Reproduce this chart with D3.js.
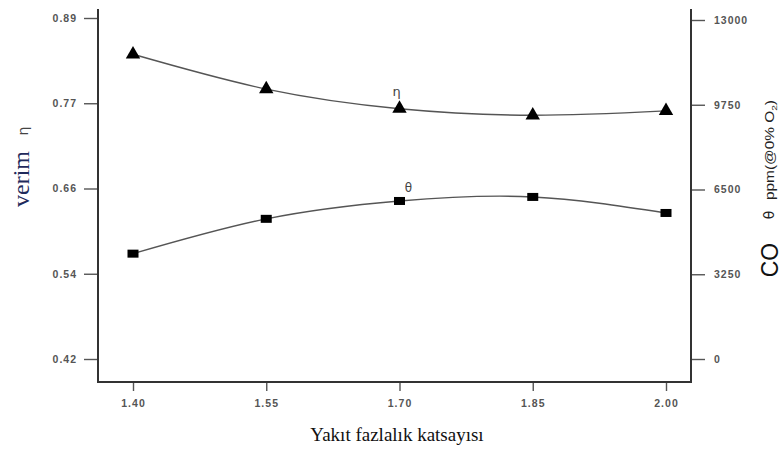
<!DOCTYPE html>
<html>
<head>
<meta charset="utf-8">
<script src="https://cdn.jsdelivr.net/npm/d3@7"></script>
<style>
  body { margin: 0; background: #fff; }
  svg { display: block; }
</style>
</head>
<body>
<div id="chart"></div>
<script>
var width = 783,
    height = 450;

// excess fuel coefficient
var categories = [1.40, 1.55, 1.70, 1.85, 2.00];
var xTickLabels = ["1.40", "1.55", "1.70", "1.85", "2.00"];
// efficiency (left axis)
var etaValues = [0.840, 0.792, 0.765, 0.756, 0.762];
// CO ppm (right axis)
var coValues = [4040, 5375, 6060, 6215, 5600];
var leftTickLabels = ["0.42", "0.54", "0.66", "0.77", "0.89"];
var rightTickLabels = ["0", "3250", "6500", "9750", "13000"];

var plotLeft = 98, plotRight = 691, plotTop = 9, plotBottom = 382;

var svg = d3.select("#chart").append("svg")
  .attr("width", width)
  .attr("height", height);

var x = d3.scaleLinear().domain([1.40, 2.00]).range([133, 666]);
var yL = d3.scaleLinear().domain([0.42, 0.89]).range([359, 18]);
var yR = d3.scaleLinear().domain([0, 13000]).range([359, 20]);

var axisColor = "#333";
var tickFont = "bold 10.5px 'Liberation Sans', Arial, sans-serif";

// left axis
var leftAxis = d3.axisLeft(yL)
  .tickValues(leftTickLabels.map(function(d, i) { return 0.42 + i * (0.89 - 0.42) / 4; }))
  .tickFormat(function(d, i) { return leftTickLabels[i]; })
  .tickSize(14)
  .tickPadding(7);
var gl = svg.append("g").attr("transform", "translate(" + plotLeft + ",0)").call(leftAxis);

// right axis
var rightAxis = d3.axisRight(yR)
  .tickValues([0, 3250, 6500, 9750, 13000])
  .tickFormat(function(d, i) { return rightTickLabels[i]; })
  .tickSize(14)
  .tickPadding(9);
var gr = svg.append("g").attr("transform", "translate(" + plotRight + ",0)").call(rightAxis);

// bottom axis
var bottomAxis = d3.axisBottom(x)
  .tickValues(categories)
  .tickFormat(function(d, i) { return xTickLabels[i]; })
  .tickSize(9)
  .tickPadding(9);
var gb = svg.append("g").attr("transform", "translate(0," + plotBottom + ")").call(bottomAxis);

[gl, gr, gb].forEach(function(g) {
  g.select(".domain").remove();
  g.selectAll(".tick line").attr("stroke", "#555").attr("stroke-width", 1.4);
  g.selectAll(".tick text")
    .style("font", tickFont)
    .style("letter-spacing", "1px")
    .attr("fill", "#555");
});

// frame lines (left, bottom, right)
svg.append("path")
  .attr("d", "M" + plotLeft + "," + plotTop + "V" + plotBottom + "H" + plotRight + "V" + plotTop)
  .attr("fill", "none")
  .attr("stroke", axisColor)
  .attr("stroke-width", 2);

// curves
var etaLine = d3.line()
  .curve(d3.curveNatural)
  .x(function(d, i) { return x(categories[i]); })
  .y(function(d) { return yL(d); });
var coLine = d3.line()
  .curve(d3.curveNatural)
  .x(function(d, i) { return x(categories[i]); })
  .y(function(d) { return yR(d); });

svg.append("path").datum(etaValues)
  .attr("d", etaLine)
  .attr("fill", "none")
  .attr("stroke", "#555")
  .attr("stroke-width", 1.4);
svg.append("path").datum(coValues)
  .attr("d", coLine)
  .attr("fill", "none")
  .attr("stroke", "#555")
  .attr("stroke-width", 1.4);

// markers
var tri = d3.symbol().type(d3.symbolTriangle).size(90);
svg.selectAll(".tri")
  .data(etaValues)
  .enter().append("path")
  .attr("class", "tri")
  .attr("d", tri)
  .attr("transform", function(d, i) { return "translate(" + x(categories[i]) + "," + yL(d) + ")"; })
  .attr("fill", "#000");

svg.selectAll(".sq")
  .data(coValues)
  .enter().append("rect")
  .attr("class", "sq")
  .attr("x", function(d, i) { return x(categories[i]) - 5.5; })
  .attr("y", function(d) { return yR(d) - 4; })
  .attr("width", 11)
  .attr("height", 8)
  .attr("fill", "#000");

// in-plot labels
svg.append("text")
  .attr("x", x(1.70) - 3)
  .attr("y", yL(etaValues[2]) - 13)
  .attr("text-anchor", "middle")
  .style("font", "13px 'DejaVu Sans', sans-serif")
  .attr("fill", "#444")
  .text("η");
svg.append("text")
  .attr("x", x(1.70) + 9)
  .attr("y", yR(coValues[2]) - 9)
  .attr("text-anchor", "middle")
  .style("font", "12px 'DejaVu Sans', sans-serif")
  .attr("fill", "#444")
  .text("θ");

// left axis title
svg.append("text")
  .attr("transform", "translate(29,179) rotate(-90)")
  .attr("text-anchor", "middle")
  .style("font", "24px 'Liberation Serif', 'Times New Roman', serif")
  .attr("fill", "#1f2a5c")
  .text("verim");
svg.append("text")
  .attr("transform", "translate(28,131) rotate(-90)")
  .attr("text-anchor", "middle")
  .style("font", "14px 'DejaVu Sans', sans-serif")
  .attr("fill", "#444")
  .text("η");

// right axis title
svg.append("text")
  .attr("transform", "translate(778,260) rotate(-90)")
  .attr("text-anchor", "middle")
  .style("font", "23px 'Liberation Sans', Arial, sans-serif")
  .attr("fill", "#111")
  .text("CO");
svg.append("text")
  .attr("transform", "translate(774,215) rotate(-90)")
  .attr("text-anchor", "middle")
  .style("font", "14px 'DejaVu Sans', sans-serif")
  .attr("fill", "#222")
  .text("θ");
var ppm = svg.append("text")
  .attr("transform", "translate(774,200) rotate(-90)")
  .attr("text-anchor", "start")
  .attr("textLength", 100)
  .attr("lengthAdjust", "spacingAndGlyphs")
  .style("font", "12px 'Liberation Sans', Arial, sans-serif")
  .attr("fill", "#222");
ppm.append("tspan").text("ppm(@0% O");
ppm.append("tspan").style("font-size", "8px").attr("dy", 3).text("2");
ppm.append("tspan").attr("dy", -3).text(")");

// x axis title
svg.append("text")
  .attr("x", 397)
  .attr("y", 441)
  .attr("text-anchor", "middle")
  .style("font", "19px 'Liberation Serif', 'Times New Roman', serif")
  .attr("fill", "#111")
  .text("Yakıt fazlalık katsayısı");
</script>
</body>
</html>
